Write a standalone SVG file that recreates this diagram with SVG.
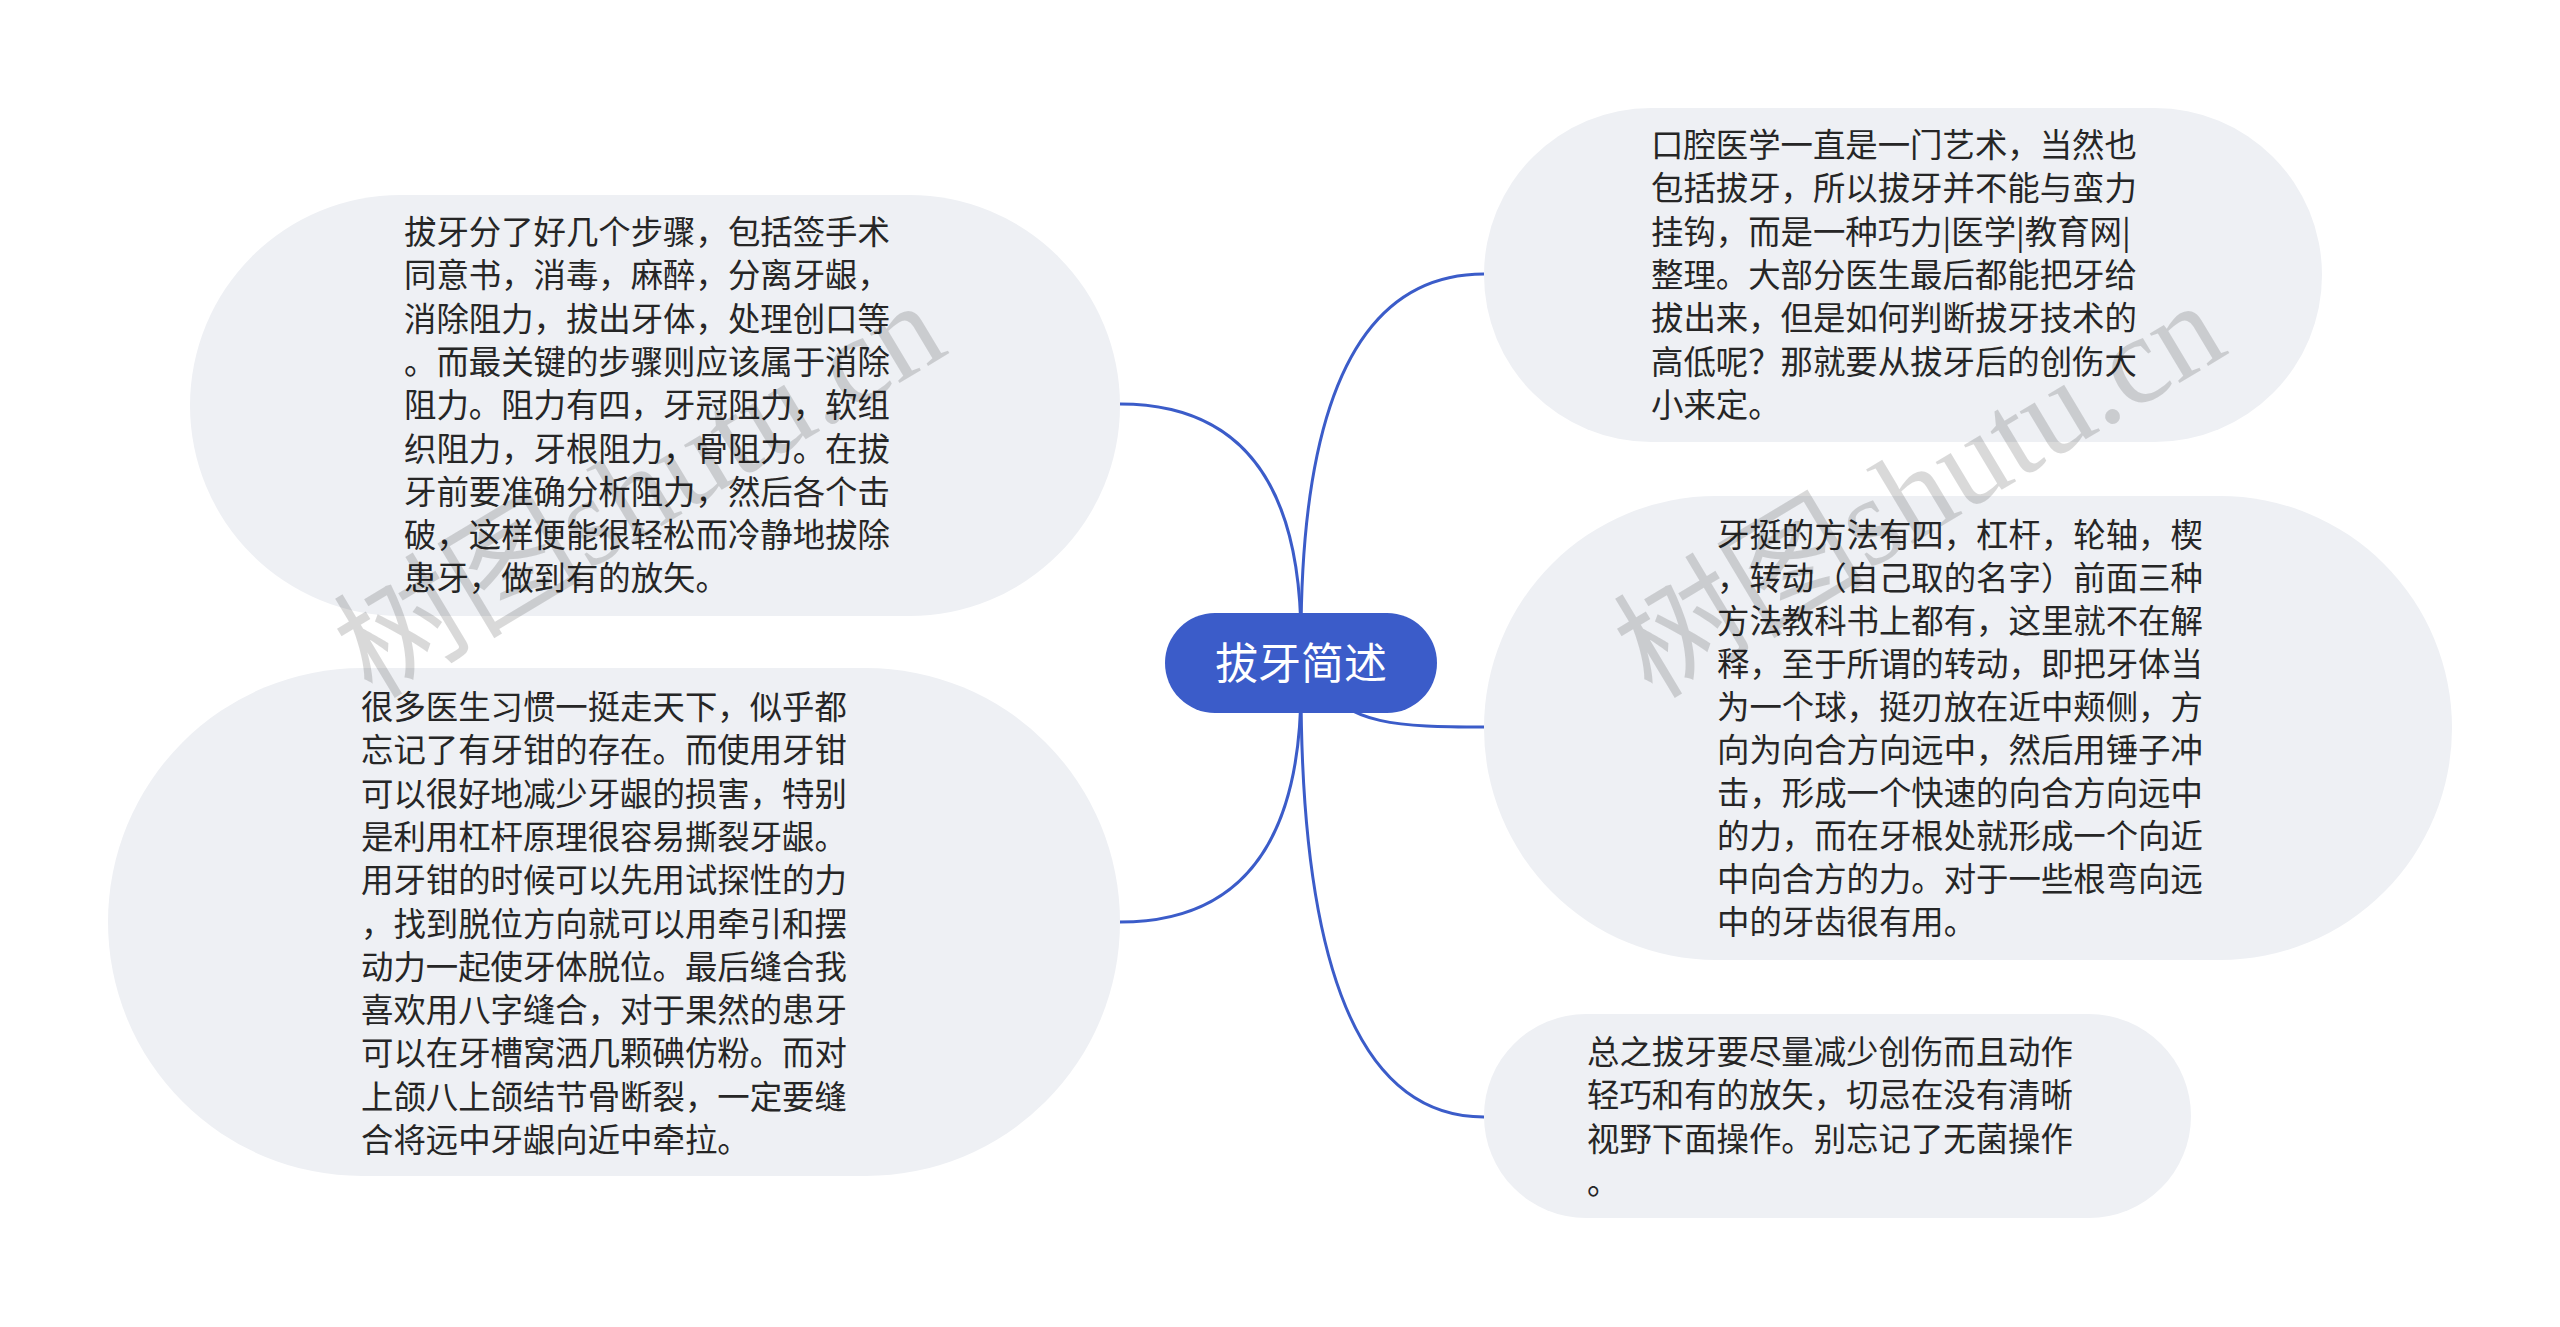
<svg xmlns="http://www.w3.org/2000/svg" width="2560" height="1327" viewBox="0 0 2560 1327">
<style>
.bub{fill:#eef0f4;}
.txt{font-family:"Noto Sans CJK SC","Liberation Sans",sans-serif;font-size:32.4px;fill:#262626;}
.conn{fill:none;stroke:#3b5cc9;stroke-width:3;}
.wm{font-family:"Liberation Serif","Noto Sans CJK SC",serif;font-size:126px;fill:#000;fill-opacity:0.15;}
</style>
<rect x="0" y="0" width="2560" height="1327" fill="#ffffff"/>
<g id="connectors">
<path class="conn" d="M1301,640 Q1301,404 1120,404"/>
<path class="conn" d="M1301,686 Q1301,922 1120,922"/>
<path class="conn" d="M1301,640 Q1301,274 1484,274"/>
<path class="conn" d="M1301,686 Q1301,1117 1484,1117"/>
<path class="conn" d="M1320,680 C1345,725 1400,727 1484,727"/>
</g>
<g id="node1">
<rect class="bub" x="190" y="195" width="930" height="421" rx="210.5"/>
<text class="txt" x="404" y="244"><tspan x="404">拔牙分了好几个步骤，包括签手术</tspan><tspan x="404" dy="43.3">同意书，消毒，麻醉，分离牙龈，</tspan><tspan x="404" dy="43.3">消除阻力，拔出牙体，处理创口等</tspan><tspan x="404" dy="43.3">。而最关键的步骤则应该属于消除</tspan><tspan x="404" dy="43.3">阻力。阻力有四，牙冠阻力，软组</tspan><tspan x="404" dy="43.3">织阻力，牙根阻力，骨阻力。在拔</tspan><tspan x="404" dy="43.3">牙前要准确分析阻力，然后各个击</tspan><tspan x="404" dy="43.3">破，这样便能很轻松而冷静地拔除</tspan><tspan x="404" dy="43.3">患牙，做到有的放矢。</tspan></text>
</g>
<g id="node2">
<rect class="bub" x="108" y="668" width="1012" height="508" rx="254"/>
<text class="txt" x="361" y="719"><tspan x="361">很多医生习惯一挺走天下，似乎都</tspan><tspan x="361" dy="43.3">忘记了有牙钳的存在。而使用牙钳</tspan><tspan x="361" dy="43.3">可以很好地减少牙龈的损害，特别</tspan><tspan x="361" dy="43.3">是利用杠杆原理很容易撕裂牙龈。</tspan><tspan x="361" dy="43.3">用牙钳的时候可以先用试探性的力</tspan><tspan x="361" dy="43.3">，找到脱位方向就可以用牵引和摆</tspan><tspan x="361" dy="43.3">动力一起使牙体脱位。最后缝合我</tspan><tspan x="361" dy="43.3">喜欢用八字缝合，对于果然的患牙</tspan><tspan x="361" dy="43.3">可以在牙槽窝洒几颗碘仿粉。而对</tspan><tspan x="361" dy="43.3">上颌八上颌结节骨断裂，一定要缝</tspan><tspan x="361" dy="43.3">合将远中牙龈向近中牵拉。</tspan></text>
</g>
<g id="node3">
<rect class="bub" x="1484" y="108" width="838" height="334" rx="167"/>
<text class="txt" x="1651" y="157"><tspan x="1651">口腔医学一直是一门艺术，当然也</tspan><tspan x="1651" dy="43.3">包括拔牙，所以拔牙并不能与蛮力</tspan><tspan x="1651" dy="43.3">挂钩，而是一种巧力|医学|教育网|</tspan><tspan x="1651" dy="43.3">整理。大部分医生最后都能把牙给</tspan><tspan x="1651" dy="43.3">拔出来，但是如何判断拔牙技术的</tspan><tspan x="1651" dy="43.3">高低呢？那就要从拔牙后的创伤大</tspan><tspan x="1651" dy="43.3">小来定。</tspan></text>
</g>
<g id="node4">
<rect class="bub" x="1484" y="496" width="968" height="464" rx="232"/>
<text class="txt" x="1717" y="547"><tspan x="1717">牙挺的方法有四，杠杆，轮轴，楔</tspan><tspan x="1717" dy="43">，转动（自己取的名字）前面三种</tspan><tspan x="1717" dy="43">方法教科书上都有，这里就不在解</tspan><tspan x="1717" dy="43">释，至于所谓的转动，即把牙体当</tspan><tspan x="1717" dy="43">为一个球，挺刃放在近中颊侧，方</tspan><tspan x="1717" dy="43">向为向合方向远中，然后用锤子冲</tspan><tspan x="1717" dy="43">击，形成一个快速的向合方向远中</tspan><tspan x="1717" dy="43">的力，而在牙根处就形成一个向近</tspan><tspan x="1717" dy="43">中向合方的力。对于一些根弯向远</tspan><tspan x="1717" dy="43">中的牙齿很有用。</tspan></text>
</g>
<g id="node5">
<rect class="bub" x="1484" y="1014" width="707" height="204" rx="102"/>
<text class="txt" x="1587" y="1064"><tspan x="1587">总之拔牙要尽量减少创伤而且动作</tspan><tspan x="1587" dy="43.3">轻巧和有的放矢，切忌在没有清晰</tspan><tspan x="1587" dy="43.3">视野下面操作。别忘记了无菌操作</tspan><tspan x="1587" dy="43.3">。</tspan></text>
</g>
<g id="center">
<rect x="1165" y="613" width="272" height="100" rx="50" fill="#3b5cc9"/>
<text x="1301" y="679" text-anchor="middle" font-family="Noto Sans CJK SC, Liberation Sans, sans-serif" font-size="43" fill="#ffffff">拔牙简述</text>
</g>
<g id="watermark">
<text class="wm" transform="translate(372,700) rotate(-31)">树图shutu.cn</text>
<text class="wm" transform="translate(1652,700) rotate(-31)">树图shutu.cn</text>
</g>
</svg>
